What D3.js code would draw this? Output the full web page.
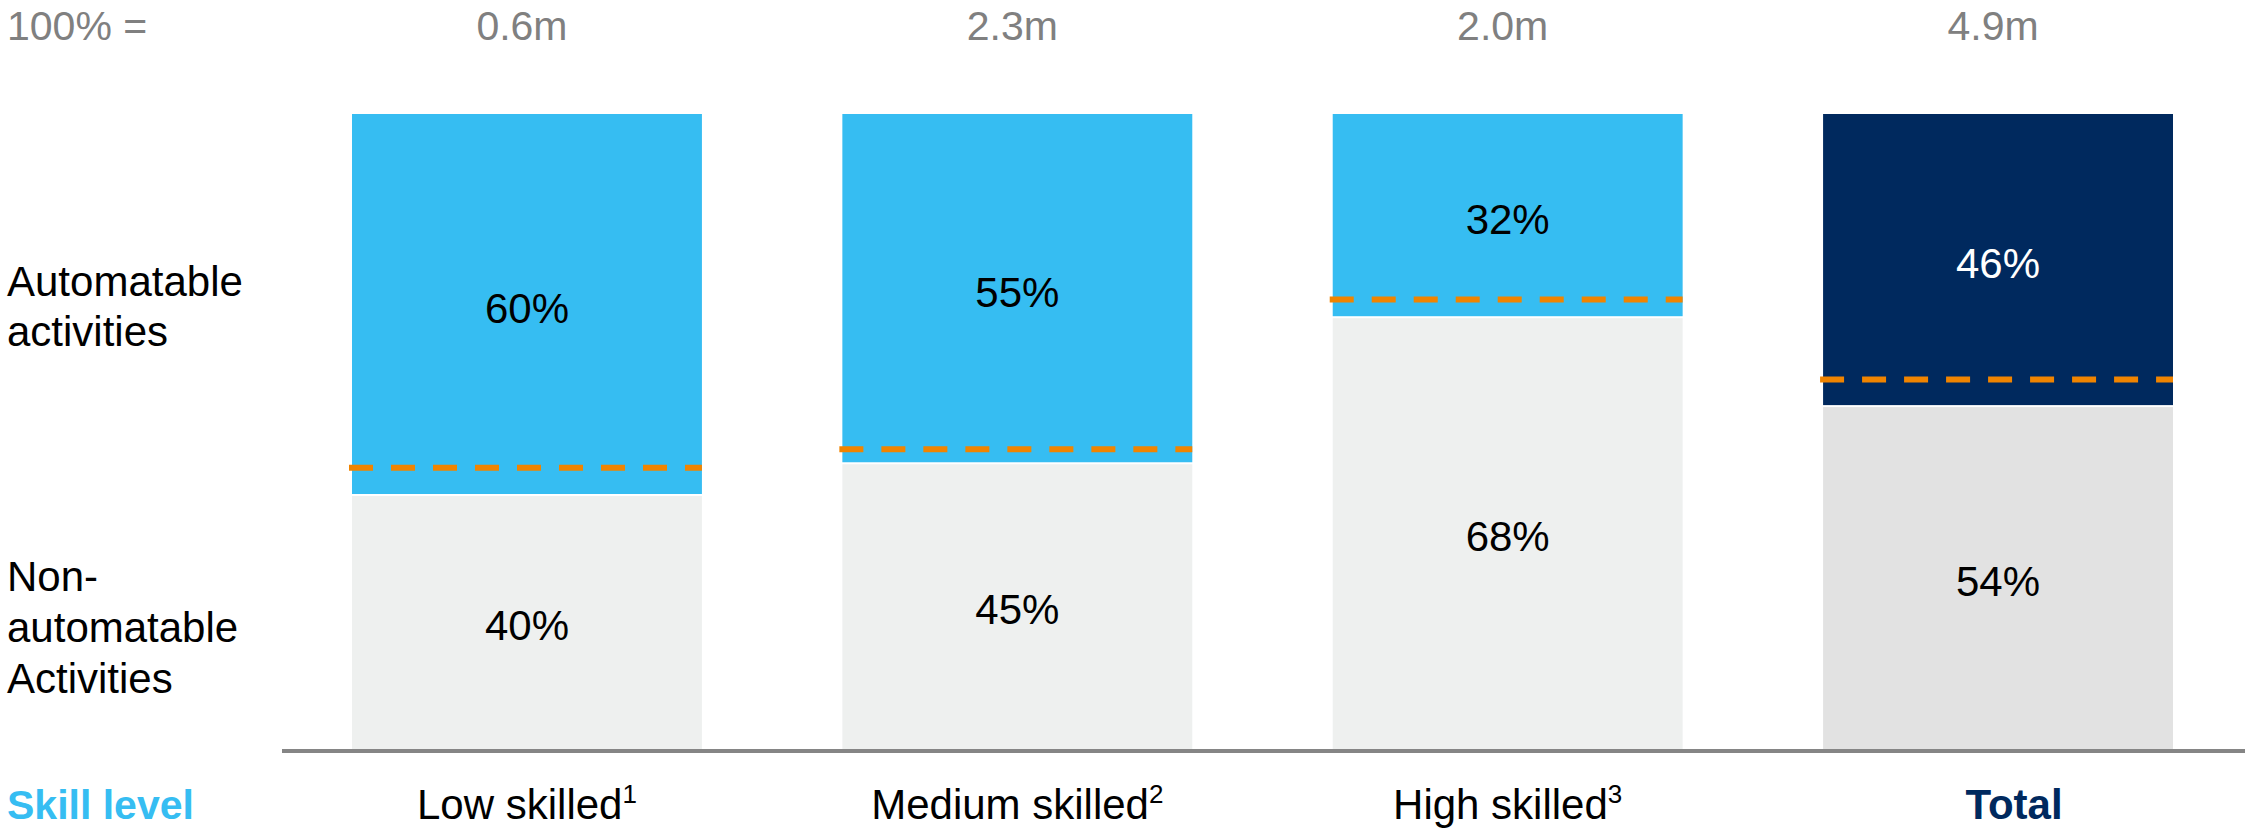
<!DOCTYPE html>
<html>
<head>
<meta charset="utf-8">
<script src="https://cdn.jsdelivr.net/npm/d3@7"></script>
<style>
  html, body { margin: 0; padding: 0; background: #fff; }
  svg { display: block; font-family: "Liberation Sans", Arial, Helvetica, sans-serif; }
</style>
</head>
<body>
<svg id="chart" width="2245" height="831"></svg>
<script>
// ---- data ----
const categories   = ["Low skilled", "Medium skilled", "High skilled", "Total"];
const footnotes    = ["1", "2", "3", ""];
const totals       = ["0.6m", "2.3m", "2.0m", "4.9m"];
const automatable  = [60, 55, 32, 46];
const nonAutomatable = [40, 45, 68, 54];
const dashedLevel  = [44.3, 47.2, 70.8, 58.2];   // orange dashed reference line (% from bottom)
const rowLabelsTop = ["Automatable", "activities"];
const rowLabelsBottom = ["Non-", "automatable", "Activities"];
const headerLabel  = "100% =";
const axisTitle    = "Skill level";

// ---- styles ----
const blue = "#36BDF2", navy = "#00295E", grayL = "#EEF0EF", grayT = "#E2E2E2";
const orange = "#F08400", textGray = "#808080", lineGray = "#858585";
const FS = 42;

const svg = d3.select("#chart");

const x = d3.scaleBand().domain(categories).range([352, 2173]).paddingInner(0.2864).paddingOuter(0);
const y = d3.scaleLinear().domain([0, 100]).range([749, 114]);

const data = categories.map((c, i) => ({
  cat: c, fn: footnotes[i], total: totals[i], auto: automatable[i],
  non: nonAutomatable[i], dash: dashedLevel[i], isTotal: i === categories.length - 1
}));

const g = svg.append("g");

// non-automatable (bottom)
g.selectAll("rect.non").data(data).join("rect")
  .attr("class", "non")
  .attr("x", d => x(d.cat))
  .attr("width", x.bandwidth())
  .attr("y", d => y(d.non) + 1)
  .attr("height", d => y(0) - y(d.non) - 1)
  .attr("fill", d => d.isTotal ? grayT : grayL);

// automatable (top)
g.selectAll("rect.auto").data(data).join("rect")
  .attr("class", "auto")
  .attr("x", d => x(d.cat))
  .attr("width", x.bandwidth())
  .attr("y", d => y(d.non + d.auto))
  .attr("height", d => y(d.non) - y(d.non + d.auto) - 1)
  .attr("fill", d => d.isTotal ? navy : blue);

// dashed lines
g.selectAll("line.dash").data(data).join("line")
  .attr("class", "dash")
  .attr("x1", d => x(d.cat) - 3)
  .attr("x2", d => x(d.cat) + x.bandwidth())
  .attr("y1", d => y(d.dash))
  .attr("y2", d => y(d.dash))
  .attr("stroke", orange)
  .attr("stroke-width", 6)
  .attr("stroke-dasharray", "24 18");

// segment labels
g.selectAll("text.autoLbl").data(data).join("text")
  .attr("class", "autoLbl")
  .attr("x", d => x(d.cat) + x.bandwidth() / 2)
  .attr("y", d => (y(d.non) + y(d.non + d.auto)) / 2 + FS * 0.36 + 3)
  .attr("text-anchor", "middle")
  .attr("font-size", FS)
  .attr("fill", d => d.isTotal ? "#fff" : "#000")
  .text(d => d.auto + "%");

g.selectAll("text.nonLbl").data(data).join("text")
  .attr("class", "nonLbl")
  .attr("x", d => x(d.cat) + x.bandwidth() / 2)
  .attr("y", d => (y(0) + y(d.non)) / 2 + FS * 0.36 + 3)
  .attr("text-anchor", "middle")
  .attr("font-size", FS)
  .attr("fill", "#000")
  .text(d => d.non + "%");

// top totals
svg.append("text").attr("x", 7).attr("y", 40).attr("font-size", 41)
  .attr("fill", textGray).text(headerLabel);
g.selectAll("text.tot").data(data).join("text")
  .attr("class", "tot")
  .attr("x", d => x(d.cat) + x.bandwidth() / 2 - 5)
  .attr("y", 40)
  .attr("text-anchor", "middle")
  .attr("font-size", 41)
  .attr("fill", textGray)
  .text(d => d.total);

// row labels
svg.append("text").attr("x", 7).attr("font-size", FS).attr("fill", "#000")
  .selectAll("tspan").data(rowLabelsTop).join("tspan")
  .attr("x", 7).attr("y", (d, i) => 296 + i * 50).text(d => d);
svg.append("text").attr("x", 7).attr("font-size", FS).attr("fill", "#000")
  .selectAll("tspan").data(rowLabelsBottom).join("tspan")
  .attr("x", 7).attr("y", (d, i) => 591 + i * 51).text(d => d);

// baseline
svg.append("line")
  .attr("x1", 282).attr("x2", 2245)
  .attr("y1", y(0) + 2).attr("y2", y(0) + 2)
  .attr("stroke", lineGray).attr("stroke-width", 4);

// x labels
svg.append("text").attr("x", 7).attr("y", 819).attr("font-size", 41)
  .attr("font-weight", "bold").attr("fill", blue).text(axisTitle);

const xl = g.selectAll("text.cat").data(data).join("text")
  .attr("class", "cat")
  .attr("x", d => x(d.cat) + x.bandwidth() / 2 + (d.isTotal ? 16 : 0))
  .attr("y", 819)
  .attr("text-anchor", "middle")
  .attr("font-size", FS)
  .attr("font-weight", d => d.isTotal ? "bold" : "normal")
  .attr("fill", d => d.isTotal ? navy : "#000");
xl.append("tspan").text(d => d.cat);
xl.append("tspan").attr("font-size", 26).attr("dy", -16).text(d => d.fn);
</script>
</body>
</html>
